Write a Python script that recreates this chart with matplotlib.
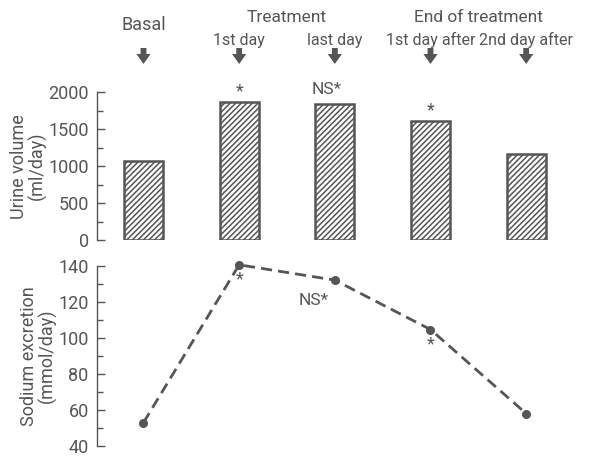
import matplotlib
matplotlib.use("Agg")
import matplotlib.pyplot as plt
from matplotlib.ticker import MultipleLocator

# Data
periods = ["Basal", "1st day", "last day", "1st day after", "2nd day after"]
urine_volume = [1070, 1870, 1840, 1610, 1170]          # ml/day
sodium_excretion = [53, 140.5, 132, 104.6, 58]          # mmol/day
urine_marks = ["", "*", "NS*", "*", ""]
sodium_marks = ["", "*", "NS*", "*", ""]

C = "#555555"
plt.rcParams["font.family"] = ["Roboto", "DejaVu Sans"]
plt.rcParams["hatch.color"] = C
plt.rcParams["hatch.linewidth"] = 1.1

W, H = 596, 458
fig = plt.figure(figsize=(W / 100, H / 100), dpi=100)

def frac(l, t, r, b):
    return [l / W, 1 - b / H, (r - l) / W, (b - t) / H]

xs = list(range(len(periods)))
xlim = (-0.486, 4.5)

ax1 = fig.add_axes(frac(97, 92.3, 574, 240))
ax2 = fig.add_axes(frac(97, 265.7, 574, 446))

for ax in (ax1, ax2):
    for s in ("top", "right", "bottom"):
        ax.spines[s].set_visible(False)
    ax.spines["left"].set_color(C)
    ax.spines["left"].set_linewidth(1.0)
    ax.set_xlim(*xlim)
    ax.set_xticks([])
    ax.tick_params(axis="y", which="major", direction="in", length=6, width=1.0,
                   color=C, labelcolor=C, labelsize=13, pad=6)
    ax.tick_params(axis="y", which="minor", direction="in", length=4, width=1.0, color=C)

# Top: bars
ax1.bar(xs, urine_volume, width=0.41, facecolor="white", edgecolor=C,
        linewidth=1.8, hatch="//////")
ax1.set_ylim(0, 2000)
ax1.yaxis.set_major_locator(MultipleLocator(500))
ax1.yaxis.set_minor_locator(MultipleLocator(250))
ax1.set_ylabel("Urine volume\n(ml/day)", color=C, fontsize=13, linespacing=0.95, labelpad=1)

for x, v, m in zip(xs, urine_volume, urine_marks):
    if m == "*":
        ax1.text(x, v + 20, "*", ha="center", va="bottom", color=C, fontsize=13)
    elif m == "NS*":
        ax1.text(x - 0.08, v + 95, "NS*", ha="center", va="bottom", color=C, fontsize=12.5)

# Bottom: dashed line
ax2.plot(xs, sodium_excretion, linestyle=(0, (4, 2.2)), color=C, linewidth=2.0,
         marker="o", markersize=5.5, markerfacecolor=C, markeredgecolor=C, clip_on=False)
ax2.set_ylim(40, 140)
ax2.yaxis.set_major_locator(MultipleLocator(20))
ax2.yaxis.set_minor_locator(MultipleLocator(10))
ax2.set_ylabel("Sodium excretion\n(mmol/day)", color=C, fontsize=13, linespacing=0.95, labelpad=1)

for x, v, m in zip(xs, sodium_excretion, sodium_marks):
    if m == "*":
        ax2.text(x, v - 3, "*", ha="center", va="top", color=C, fontsize=13)
    elif m == "NS*":
        ax2.text(x - 0.22, v - 7, "NS*", ha="center", va="top", color=C, fontsize=12.5)

# Header labels and arrows
tr = ax1.get_xaxis_transform()
def yf(py):
    return (240 - py) / (240 - 92.3)

for x in xs:
    ax1.annotate("", xy=(x, yf(64)), xytext=(x, yf(48)), xycoords=tr, textcoords=tr,
                 arrowprops=dict(arrowstyle="simple,head_width=0.85,head_length=0.6,tail_width=0.35",
                                 lw=0, fc=C, ec=C, mutation_scale=12,
                                 shrinkA=0, shrinkB=0), annotation_clip=False)

ax1.text(0, yf(25), "Basal", transform=tr, ha="center", va="center", color=C, fontsize=13, clip_on=False)
ax1.text(1.5, yf(18), "Treatment", transform=tr, ha="center", va="center", color=C, fontsize=12.5, clip_on=False)
ax1.text(3.5, yf(18), "End of treatment", transform=tr, ha="center", va="center", color=C, fontsize=12.5, clip_on=False)
for x, lab in zip(xs[1:], periods[1:]):
    ax1.text(x, yf(40), lab, transform=tr, ha="center", va="center", color=C, fontsize=11.5, clip_on=False)

fig.savefig("out.png", dpi=100)
